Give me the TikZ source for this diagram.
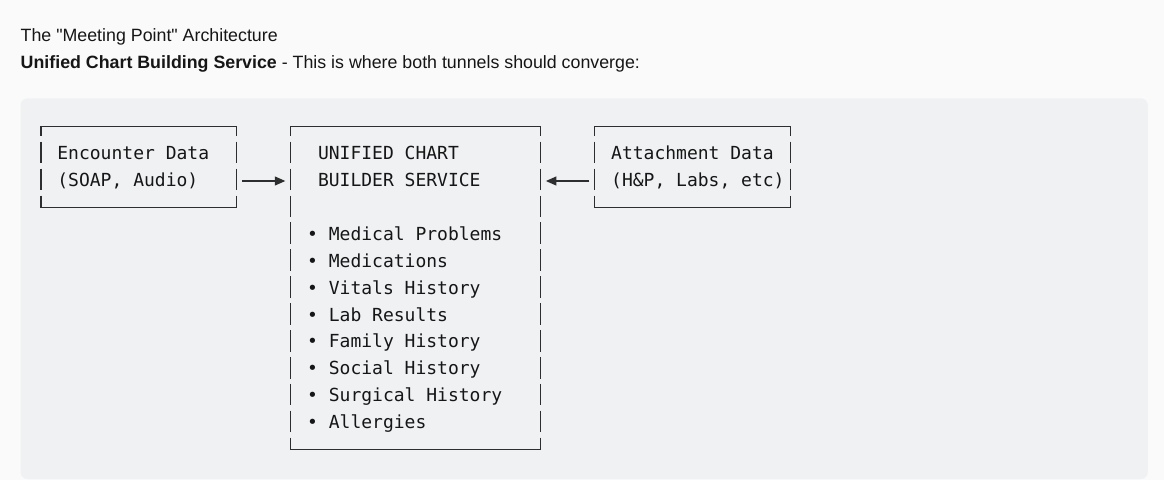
\documentclass[tikz,border=0pt]{standalone}
\usepackage{fontspec}
\setmainfont{Liberation Sans}[Ligatures=TeXOff]
\newfontfamily\codefont{DejaVu Sans Mono}
\usetikzlibrary{arrows.meta}
\definecolor{pagebg}{HTML}{FAFAFA}
\definecolor{panelbg}{HTML}{EFF1F3}
\definecolor{inktext}{HTML}{161616}
\definecolor{inkline}{HTML}{2E2E2E}
\begin{document}
\begin{tikzpicture}[x=1pt,y=-1pt,
	prose/.style={font=\fontsize{17.8}{21}\selectfont,text=inktext,inner sep=0pt,anchor=base west},
	code/.style={font=\codefont\fontsize{18}{27}\selectfont,text=inktext,inner sep=0pt,anchor=base west},
	frame/.style={inner sep=0pt,outer sep=0pt,anchor=north west},
	hline/.style={draw=inkline,line width=1.2pt,line cap=rect},
	vline/.style={draw=inkline,line width=1.2pt,dash pattern=on 21.6pt off 5.3pt,dash phase=11.9pt},
	feed/.style={draw=inkline,line width=1.2pt,-{Triangle[length=10.5pt,width=9pt]},shorten <=5.4pt,shorten >=5.4pt}]
				\useasboundingbox (0,0) rectangle (1164,480);
				\fill[pagebg] (0,0) rectangle (1164,480);
				\fill[panelbg,rounded corners=7pt] (20.5,98.3) rectangle (1147.8,479);
				\node[prose] (title) at (20.5,41) {The "Meeting Point" Architecture};
				\node[prose] (subtitle) at (20.5,68.3) {\textbf{Unified Chart Building Service} - This is where both tunnels should converge:};
				\node[frame,minimum width=195.5pt,minimum height=80.7pt] (enc) at (40.9,126.7) {};
				\node[frame,minimum width=249.8pt,minimum height=322.8pt] (ucb) at (290.7,126.7) {};
				\node[frame,minimum width=195.5pt,minimum height=80.7pt] (att) at (594.8,126.7) {};
				\foreach \b in {enc,ucb,att}{
					\draw[hline] (\b.north west) -- (\b.north east);
					\draw[hline] (\b.south west) -- (\b.south east);
					\draw[vline] (\b.north west) -- (\b.south west);
					\draw[vline] (\b.north east) -- (\b.south east);
				}
				\node[code] (enc1) at (57.2,159.6) {Encounter Data};
				\node[code] (enc2) at (57.2,186.5) {(SOAP, Audio)};
				\node[code] (ucb1) at (317.8,159.6) {UNIFIED CHART};
				\node[code] (ucb2) at (317.8,186.5) {BUILDER SERVICE};
				\foreach \entry [count=\i] in {Medical Problems,Medications,Vitals History,Lab Results,Family History,Social History,Surgical History,Allergies}
					\node[code] (entry\i) at (307,213.4+26.9*\i) {• \entry};
				\node[code] (att1) at (611,159.6) {Attachment Data};
				\node[code] (att2) at (611,186.5) {(H\&P, Labs, etc)};
				\coordinate (wire) at (0,181);
				\draw[feed] (enc.east |- wire) -- (ucb.west |- wire);
				\draw[feed] (att.west |- wire) -- (ucb.east |- wire);
\end{tikzpicture}
\end{document}
